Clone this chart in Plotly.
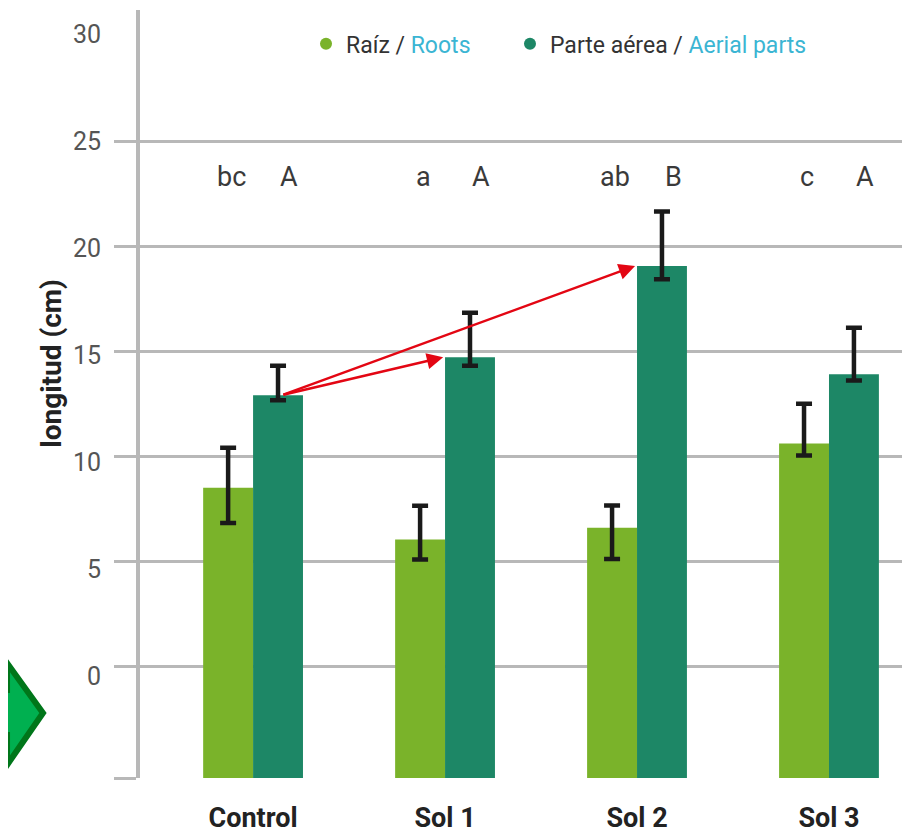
import plotly.graph_objects as go

categories = ["Control", "Sol 1", "Sol 2", "Sol 3"]
raiz = [8.49, 6.03, 6.59, 10.60]
raiz_err_plus = [1.90, 1.60, 1.05, 1.89]
raiz_err_minus = [1.68, 0.95, 1.49, 0.57]
aerea = [12.90, 14.70, 19.05, 13.89]
aerea_err_plus = [1.40, 2.12, 2.59, 2.22]
aerea_err_minus = [0.24, 0.40, 0.63, 0.29]
letters_raiz = ["bc", "a", "ab", "c"]
letters_aerea = ["A", "A", "B", "A"]
grid_ticks = [0, 5, 10, 15, 20, 25]
label_ticks = [0, 5, 10, 15, 20, 25, 30]

Y_MIN, Y_MAX = -5.33, 31.24          # gridline / bar axis
LBL_MIN, LBL_MAX = -4.74, 31.13      # tick-label axis (labels sit slightly off the gridlines)
C_RAIZ = "#7ab32a"
C_AEREA = "#1d8766"
C_GRID = "#b8b8b8"
C_BLUE = "#3bb5d3"
FONT = "Roboto"

fig = go.Figure()
fig.add_trace(go.Bar(
    x=categories, y=[v - Y_MIN for v in raiz], base=Y_MIN,
    marker=dict(color=C_RAIZ, line=dict(width=0)), showlegend=False,
    error_y=dict(type="data", array=raiz_err_plus, arrayminus=raiz_err_minus,
                 color="#1a1a1a", thickness=4.5, width=8),
))
fig.add_trace(go.Bar(
    x=categories, y=[v - Y_MIN for v in aerea], base=Y_MIN,
    marker=dict(color=C_AEREA, line=dict(width=0)), showlegend=False,
    error_y=dict(type="data", array=aerea_err_plus, arrayminus=aerea_err_minus,
                 color="#1a1a1a", thickness=4.5, width=8),
))
# legend entries (circles)
fig.add_trace(go.Scatter(
    x=[None], y=[None], mode="markers", legend="legend",
    marker=dict(color=C_RAIZ, size=12, symbol="circle"),
    name="Raíz / <span style='color:%s'>Roots</span>" % C_BLUE,
))
fig.add_trace(go.Scatter(
    x=[None], y=[None], mode="markers", legend="legend2",
    marker=dict(color=C_AEREA, size=12, symbol="circle"),
    name="Parte aérea / <span style='color:%s'>Aerial parts</span>" % C_BLUE,
))
# invisible trace to activate the label axis
fig.add_trace(go.Scatter(x=[None], y=[None], yaxis="y2", showlegend=False))

# significance letters
for i, c in enumerate(categories):
    fig.add_annotation(x=c, y=23.3, text=letters_raiz[i], showarrow=False,
                       xshift=-22, font=dict(family=FONT, size=27, color="#3a3a3a"))
    fig.add_annotation(x=c, y=23.3, text=letters_aerea[i], showarrow=False,
                       xshift=36, font=dict(family=FONT, size=27, color="#3a3a3a"))

# red arrows from Control aerial bar to Sol 1 and Sol 2 aerial bars
for j in (1, 2):
    fig.add_annotation(
        x=j - 0.01, y=aerea[j], ax=0.15, ay=aerea[0],
        xref="x", yref="y", axref="x", ayref="y",
        showarrow=True, arrowhead=2, arrowsize=1.3, arrowwidth=2.5,
        arrowcolor="#e30613", standoff=0, startstandoff=0, text="",
    )

# y-axis title
fig.add_annotation(
    xref="paper", yref="paper", x=-0.139, y=0.540, text="<b>longitud (cm)</b>",
    textangle=-90, showarrow=False, font=dict(family=FONT, size=28, color="#222"),
)

# decorative green block arrow at left
fig.add_shape(
    type="path", xref="paper", yref="paper",
    path="M -0.20 0.1146 L -0.1727 0.1146 L -0.1727 0.1497 L -0.1260 0.0846 "
         "L -0.1727 0.0169 L -0.1727 0.0560 L -0.20 0.0560 Z",
    fillcolor="#00b050", line=dict(color="#00761a", width=6), layer="above",
)

legend_common = dict(orientation="h", xanchor="left", y=0.956, yanchor="middle",
                     font=dict(family=FONT, size=23, color="#333"),
                     bgcolor="rgba(0,0,0,0)", itemwidth=30)

fig.update_layout(
    width=902, height=826,
    margin=dict(l=132, r=0, t=2, b=56, autoexpand=False),
    paper_bgcolor="white", plot_bgcolor="white",
    barmode="group", bargap=0.48, bargroupgap=0,
    font=dict(family=FONT, color="#444"),
    legend=dict(x=0.2156, **legend_common),
    legend2=dict(x=0.4805, **legend_common),
    xaxis=dict(
        type="category", range=[-0.589, 3.422], showgrid=False, zeroline=False,
        showline=False, ticks="", ticklabelstandoff=21, automargin=False,
        tickfont=dict(family=FONT, size=27, color="#222", weight="bold"),
    ),
    yaxis=dict(
        range=[Y_MIN, Y_MAX], tickvals=[Y_MIN] + grid_ticks, showticklabels=False,
        showgrid=True, gridcolor=C_GRID, gridwidth=3, automargin=False,
        ticks="outside", ticklen=22, tickwidth=3, tickcolor=C_GRID,
        zeroline=False, showline=True, linecolor=C_GRID, linewidth=4,
    ),
    yaxis2=dict(
        overlaying="y", side="left", anchor="x", range=[LBL_MIN, LBL_MAX],
        tickvals=label_ticks, showgrid=False, zeroline=False, showline=False,
        ticks="", ticklabelstandoff=38, automargin=False,
        tickfont=dict(family=FONT, size=25, color="#555"),
    ),
)

fig.write_html("out.html")
